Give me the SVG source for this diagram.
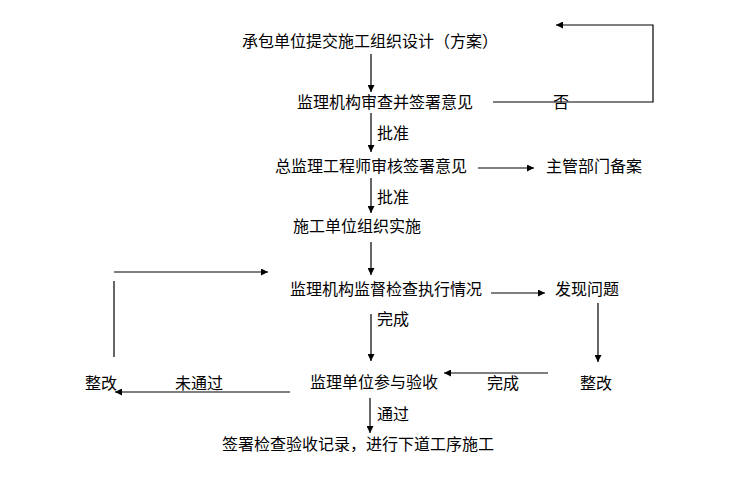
<svg xmlns="http://www.w3.org/2000/svg" width="746" height="477" viewBox="0 0 746 477">
<defs>
<marker id="ah" viewBox="0 0 10 10" refX="10" refY="5" markerWidth="8" markerHeight="7" markerUnits="userSpaceOnUse" orient="auto">
<path d="M0,0 L10,5 L0,10 z" fill="#000"/>
</marker>
<style>
text{font-family:"Noto Sans CJK SC","Noto Sans",sans-serif;font-size:16px;fill:#000;dominant-baseline:central}
.c{fill:none;stroke:#000;stroke-width:1.2}
.a{marker-end:url(#ah)}
</style>
</defs>
<rect width="746" height="477" fill="#fff"/>
<g id="connectors">
<line class="c a" x1="371" y1="54" x2="371" y2="92"/>
<polyline class="c a" points="493,102 653,102 653,25 556,25"/>
<line class="c a" x1="371" y1="113" x2="371" y2="152"/>
<line class="c a" x1="478" y1="168" x2="534" y2="168"/>
<line class="c a" x1="371" y1="178" x2="371" y2="213"/>
<line class="c a" x1="371" y1="242" x2="371" y2="275"/>
<line class="c a" x1="114" y1="272" x2="268" y2="272"/>
<line class="c" x1="114" y1="281" x2="114" y2="357"/>
<line class="c a" x1="491" y1="293" x2="545" y2="293"/>
<line class="c a" x1="371" y1="314" x2="371" y2="361"/>
<line class="c a" x1="598" y1="303" x2="598" y2="362"/>
<line class="c a" x1="548" y1="373" x2="444" y2="373"/>
<line class="c a" x1="290" y1="392" x2="115" y2="392"/>
<line class="c a" x1="370" y1="398" x2="370" y2="433"/>
</g>
<g id="labels">
<text x="553" y="101">否</text>
<text x="377" y="132">批准</text>
<text x="377" y="196">批准</text>
<text x="377" y="318">完成</text>
<text x="175" y="382">未通过</text>
<text x="487" y="382">完成</text>
<text x="377" y="413">通过</text>
</g>
<g id="n1"><text x="242" y="40">承包单位提交施工组织设计（方案）</text></g>
<g id="n2"><text x="297" y="101">监理机构审查并签署意见</text></g>
<g id="n3"><text x="275" y="165">总监理工程师审核签署意见</text></g>
<g id="n4"><text x="546" y="165">主管部门备案</text></g>
<g id="n5"><text x="293" y="225">施工单位组织实施</text></g>
<g id="n6"><text x="290" y="288">监理机构监督检查执行情况</text></g>
<g id="n7"><text x="555" y="288">发现问题</text></g>
<g id="n8"><text x="85" y="382">整改</text></g>
<g id="n9"><text x="310" y="381">监理单位参与验收</text></g>
<g id="n10"><text x="580" y="382">整改</text></g>
<g id="n11"><text x="222" y="443">签署检查验收记录，进行下道工序施工</text></g>
</svg>
